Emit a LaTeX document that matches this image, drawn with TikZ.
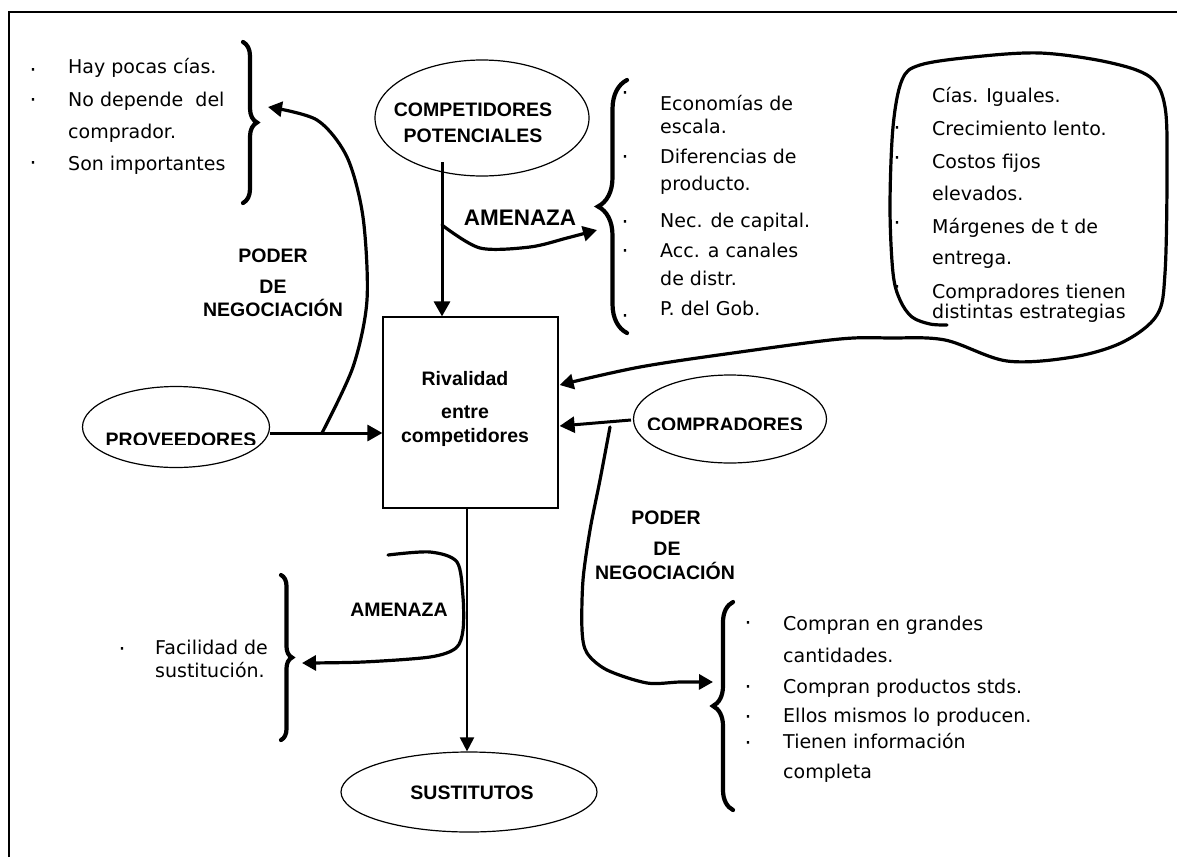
\documentclass[tikz,border=0pt]{standalone}
\usepackage{fontspec}
\setmainfont{DejaVu Sans}
\newfontfamily\lblfont{Liberation Sans}
\usetikzlibrary{arrows.meta,decorations.pathreplacing,shapes.geometric}
\begin{document}
\begin{tikzpicture}[x=1pt,y=-1pt,
  txt/.style={anchor=base west,inner sep=0pt,font=\fontsize{19}{23}\selectfont},
  lbl/.style={anchor=base,inner sep=0pt,font=\lblfont\bfseries\fontsize{19.5}{23}\selectfont},
  biglbl/.style={anchor=base,inner sep=0pt,font=\lblfont\bfseries\fontsize{22.5}{26}\selectfont},
  bul/.style={anchor=base,inner sep=0pt,font=\fontsize{22}{26}\selectfont},
  oval/.style={ellipse,draw,line width=1.2pt,inner sep=0pt},
  bigarrow/.style={line width=3pt,-{Triangle[length=15pt,width=16pt]}},
  thinarrow/.style={line width=2pt,-{Triangle[length=14pt,width=14pt]}},
  curvearrow/.style={line width=3.2pt,line cap=round,line join=round,-{Triangle[length=14pt,width=15pt]}},
  curly/.style={decorate,line width=4.2pt,line cap=round,decoration={brace,amplitude=#1}},
]
\useasboundingbox (0,0) rectangle (1177,857);
\fill[white] (0,0) rectangle (1177,857);
% frame
\draw[line width=1.8pt] (9,857) -- (9,12) -- (1177,12);

% main nodes
\node[draw,line width=1.2pt,minimum width=175pt,minimum height=191pt,inner sep=0pt] (box) at (470.5,412.5) {};
\node[oval,minimum width=214pt,minimum height=116pt] (comp) at (482,118) {};
\node[oval,minimum width=187pt,minimum height=81pt] (prov) at (176,427) {};
\node[oval,minimum width=193pt,minimum height=88pt] (compr) at (730,419) {};
\node[oval,minimum width=256pt,minimum height=80pt] (sust) at (469,792) {};

% labels in nodes
\node[lbl] (compT1) at (473,116) {COMPETIDORES};
\node[lbl] (compT2) at (473,142) {POTENCIALES};
\node[lbl] (rivT1) at (465,385) {Rivalidad};
\node[lbl] (rivT2) at (465,418) {entre};
\node[lbl] (rivT3) at (465,442) {competidores};
\node[lbl] (sustT) at (472,799) {SUSTITUTOS};
\begin{scope}
  \clip (90,400) rectangle (268,444);
  \node[lbl] (provT) at (181,446.5) {PROVEEDORES};
\end{scope}
\begin{scope}
  \clip (636,400) rectangle (824,429);
  \node[lbl] (comprT) at (725,431.5) {COMPRADORES};
\end{scope}

% edge labels
\node[lbl] (pod1) at (273,262) {PODER};
\node[lbl] (de1) at (273,293) {DE};
\node[lbl] (neg1) at (273,316) {NEGOCIACIÓN};
\node[biglbl] (am1) at (520,225) {AMENAZA};
\node[lbl] (pod2) at (666,524) {PODER};
\node[lbl] (de2) at (667,555) {DE};
\node[lbl] (neg2) at (665,579) {NEGOCIACIÓN};
\node[lbl] (am2) at (399,616) {AMENAZA};

% lists
\node[txt] (l1a) at (68,73) {Hay pocas cías.};
\node[txt] (l1b) at (68,106) {No depende\ \ del};
\node[txt] (l1c) at (68,138) {comprador.};
\node[txt] (l1d) at (68,170) {Son importantes};

\node[txt] (l2a) at (660,110) {Economías de};
\node[txt] (l2b) at (660,133) {escala.};
\node[txt] (l2c) at (660,163) {Diferencias de};
\node[txt] (l2d) at (660,190) {producto.};
\node[txt] (l2e) at (660,227) {Nec. de capital.};
\node[txt] (l2f) at (660,257) {Acc. a canales};
\node[txt] (l2g) at (660,285) {de distr.};
\node[txt] (l2h) at (660,315) {P. del Gob.};

\node[txt] (l3a) at (932,102) {Cías. Iguales.};
\node[txt] (l3b) at (932,135) {Crecimiento lento.};
\node[txt] (l3c) at (932,168) {Costos fijos};
\node[txt] (l3d) at (932,200) {elevados.};
\node[txt] (l3e) at (932,233) {Márgenes de t de};
\node[txt] (l3f) at (932,264) {entrega.};
\node[txt] (l3g) at (932,298) {Compradores tienen};
\node[txt] (l3h) at (932,318) {distintas estrategias};

\node[txt] (l4a) at (783,630) {Compran en grandes};
\node[txt] (l4b) at (783,662) {cantidades.};
\node[txt] (l4c) at (783,693) {Compran productos stds.};
\node[txt] (l4d) at (783,722) {Ellos mismos lo producen.};
\node[txt] (l4e) at (783,748) {Tienen información};
\node[txt] (l4f) at (783,778) {completa};

\node[txt] (l5a) at (155,654) {Facilidad de};
\node[txt] (l5b) at (155,677) {sustitución.};

% bullets
\foreach \bx/\by [count=\i] in {33/70,33/100,33/163,
    625/93,625/157,625/222,625/251,625/316,
    897/128,897/158,897/223,897/287,
    748/623,748/687,748/717,748/743,
    122/649}
  \node[bul] (bul\i) at (\bx,\by+7.5) {·};

% braces
\draw[curly=14pt] (243,42) -- (243,203);
\draw[curly=29pt] (627,333) -- (627,80);
\draw[curly=20pt] (733,810) -- (733,602);
\draw[curly=11pt] (281,575) -- (281,740);

% straight connectors
\coordinate (c1) at (442,162);
\draw[bigarrow] (c1) -- (c1 |- box.north);
\coordinate (p1) at (prov.east |- 0,433);
\draw[bigarrow] (p1) -- (p1 -| box.west);
\coordinate (k1) at (631,420);
\path (box.east) ++(1,13.5) coordinate (k2);
\draw[bigarrow] (k1) -- (k2);
\coordinate (s1) at (467,508);
\draw[thinarrow] (s1) -- (s1 |- sust.north);

% curved connectors
\coordinate (pb) at (322,433);
\coordinate (tbr) at (268,107);
\draw[curvearrow] plot[smooth] coordinates {(pb) (353,367) (367,300) (363,217) (347,157) (317,120) (tbr)};

\coordinate (a1) at (442,225);
\coordinate (mbr) at (597,230);
\draw[curvearrow] plot[smooth] coordinates {(a1) (480,248) (530,247) (567,238) (mbr)};

\coordinate (a2) at (388,555);
\coordinate (lbr) at (302,663);
\draw[curvearrow] plot[smooth] coordinates {(a2) (430,552) (457,562) (463,597) (463,630) (456,648) (430,657) (363,662) (lbr)};

\coordinate (k3) at (610,427);
\coordinate (rbr) at (713,682);
\draw[curvearrow] plot[smooth] coordinates {(k3) (600,480) (590,530) (583,580) (582,630) (587,653) (607,670) (647,683) (680,682) (rbr)};

% blob with arrow into box
\path (box.east) ++(1,-27.5) coordinate (r1);
\coordinate (bl0) at (947,325);
\draw[curvearrow] plot[smooth,tension=0.55] coordinates {(bl0) (930,324) (912,317) (900,300) (893,273) (890,207) (893,127) (902,80) (920,65) (973,57) (1040,53) (1107,62) (1150,77) (1165,107) (1167,173) (1165,273) (1157,315) (1123,342) (1073,357) (1007,361) (945,340) (890,338) (840,339) (740,352) (640,367) (r1)};
\end{tikzpicture}
\end{document}
